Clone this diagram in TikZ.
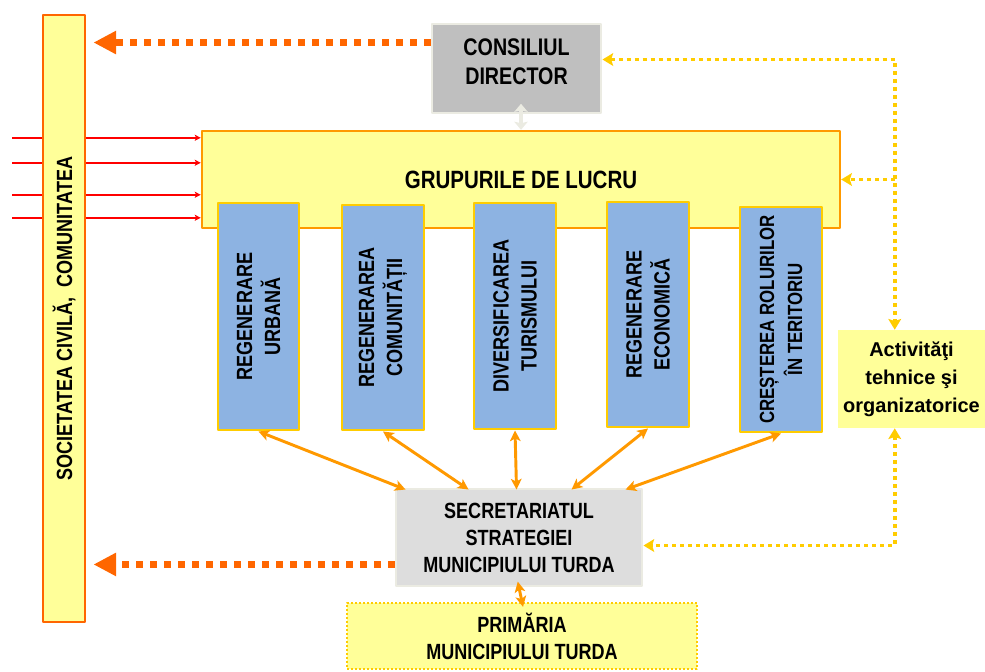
\documentclass[tikz,border=0pt]{standalone}
\usepackage{fontspec}
\setsansfont{Liberation Sans}
\newfontfamily\narrowsf[FakeStretch=0.82]{Liberation Sans}
\usetikzlibrary{arrows.meta,calc}

\definecolor{paleyellow}{HTML}{FFFF99}
\definecolor{socorange}{HTML}{FF6600}
\definecolor{groupborder}{HTML}{FF9900}
\definecolor{themeblue}{HTML}{8DB3E2}
\definecolor{themegold}{HTML}{FFCC00}
\definecolor{councilgrey}{HTML}{BFBFBF}
\definecolor{secgrey}{HTML}{DDDDDD}
\definecolor{greyframe}{HTML}{EBEBE2}
\definecolor{dashorange}{HTML}{FF6600}
\definecolor{linkorange}{HTML}{FF9900}
\definecolor{goldline}{HTML}{FFCC00}
\definecolor{redline}{HTML}{FF0000}

\newdimen\pxunit \pxunit=0.75pt

\begin{document}
\begin{tikzpicture}[x=0.75pt, y=-0.75pt, line join=round,
    dims/.style 2 args={minimum width=#1*\pxunit, minimum height=#2*\pxunit, inner sep=0pt},
    narrow/.style 2 args={align=center, font=\narrowsf\bfseries\fontsize{#1}{#2}\selectfont},
    societybox/.style={draw=socorange, line width=2.2pt, fill=paleyellow},
    workbox/.style={draw=groupborder, line width=1.8pt, fill=paleyellow},
    themebox/.style={draw=themegold, line width=2.2pt, fill=themeblue},
    themetext/.style={rotate=90, narrow={16.5}{21}},
    councilbox/.style={draw=greyframe, line width=2.2pt, fill=councilgrey},
    secbox/.style={draw=greyframe, line width=2.2pt, fill=secgrey},
    primbox/.style={draw=goldline, line width=1.5pt, dash pattern=on 1.5pt off 1.5pt, fill=paleyellow},
    bigtip/.tip={Triangle[length=17pt,width=16.5pt]},
    goldtip/.tip={Stealth[length=8pt,width=9.5pt,inset=1.5pt]},
    linktip/.tip={Stealth[length=8pt,width=8pt,inset=2pt]},
    redtip/.tip={Stealth[length=4.5pt,width=4.5pt,inset=1pt]},
    greytip/.tip={Stealth[length=6pt,width=10pt,inset=1pt]},
    orangedash/.style={draw=dashorange, line width=5.25pt, dash pattern=on 5.25pt off 5.25pt, -bigtip},
    golddot/.style={draw=goldline, line width=2.8pt, dash pattern=on 3pt off 3pt},
    linkarrow/.style={draw=linkorange, line width=2.2pt, linktip-linktip},
    redarrow/.style={draw=redline, line width=1.5pt, -redtip},
    councilarrow/.style={draw=greyframe, line width=3.5pt, greytip-greytip}]
\useasboundingbox (0,0) rectangle (985,671);

\node[workbox, dims={638}{97}, narrow={18.75}{22}] (grup) at (521,179.5) {GRUPURILE DE LUCRU};

% inputs from outside, behind the column
\coordinate (redstart) at (12,0);
\foreach \dy [count=\i] in {8,33,65,88}{
  \coordinate (in\i) at ($(grup.north west)+(0,\dy)$);
  \draw[redarrow] (redstart |- in\i) -- (in\i);
}

\node[societybox, dims={42}{607}, label={[rotate=90, narrow={16.5}{20}]center:{SOCIETATEA CIVILĂ,\ \ COMUNITATEA}}] (soc) at (64,318.5) {};
\node[councilbox, dims={169}{89}, label={[narrow={18}{21.75}, yshift=5.25pt]center:{CONSILIUL\\DIRECTOR}}] (con) at (516.5,68.5) {};

\node[themebox, dims={81}{227}, label={[themetext]center:{REGENERARE\\URBANĂ}}] (b1) at (258.5,316.5) {};
\node[themebox, dims={82}{225}, label={[themetext]center:{REGENERAREA\\COMUNITĂȚII}}] (b2) at (383,317.5) {};
\node[themebox, dims={82}{226}, label={[themetext]center:{DIVERSIFICAREA\\TURISMULUI}}] (b3) at (515,316) {};
\node[themebox, dims={82}{225}, label={[themetext]center:{REGENERARE\\ECONOMICĂ}}] (b4) at (648,314.5) {};
\node[themebox, dims={82}{225}, label={[themetext, narrow={15.4}{21}]center:{CREȘTEREA ROLURILOR\\ÎN TERITORIU}}] (b5) at (781,319.5) {};

\node[secbox, dims={246}{97}, narrow={16.5}{20.25}] (sec) at (519,537.5) {SECRETARIATUL\\STRATEGIEI\\MUNICIPIULUI TURDA};
\node[primbox, dims={350}{66}, narrow={16.5}{20.25}] (prim) at (522,636) {PRIMĂRIA\\MUNICIPIULUI TURDA};
\node[fill=paleyellow, dims={147}{98}, align=center, font=\sffamily\bfseries\fontsize{15}{21}\selectfont] (act) at (911.5,379) {Activităţi\\tehnice şi\\organizatorice};

% to the community
\coordinate (conout) at ($(con.north west)+(0,20)$);
\coordinate (secout) at ($(sec.south west)+(0,-23)$);
\draw[orangedash, shorten >=5.25pt] (conout) -- (conout -| soc.east);
\draw[orangedash, shorten >=5.25pt] (secout) -- (secout -| soc.east);

% technical support
\coordinate (actN) at ($(act.north west)+(57,0)$);
\coordinate (actS) at ($(act.south west)+(57,0)$);
\coordinate (conR) at ($(con.north east)+(0,37)$);
\coordinate (secR) at ($(sec.north east)+(0,58)$);
\draw[golddot, goldtip-goldtip] (conR) -- (conR -| actN) -- (actN);
\draw[golddot, -goldtip] (grup.east -| actN) -- (grup.east);
\draw[golddot, goldtip-goldtip] (actS) -- (actS |- secR) -- (secR);

\draw[councilarrow, shorten <=-8pt] (con.south -| grup.north) -- (grup.north);
\foreach \b/\dx in {b1/11,b2/74,b3/122,b4/177,b5/231}
  \draw[linkarrow] (\b.south) -- ($(sec.north west)+(\dx,2)$);
\draw[linkarrow, shorten <=-4.5pt, shorten >=-3.75pt] (sec.south) -- (prim.north);
\end{tikzpicture}
\end{document}
